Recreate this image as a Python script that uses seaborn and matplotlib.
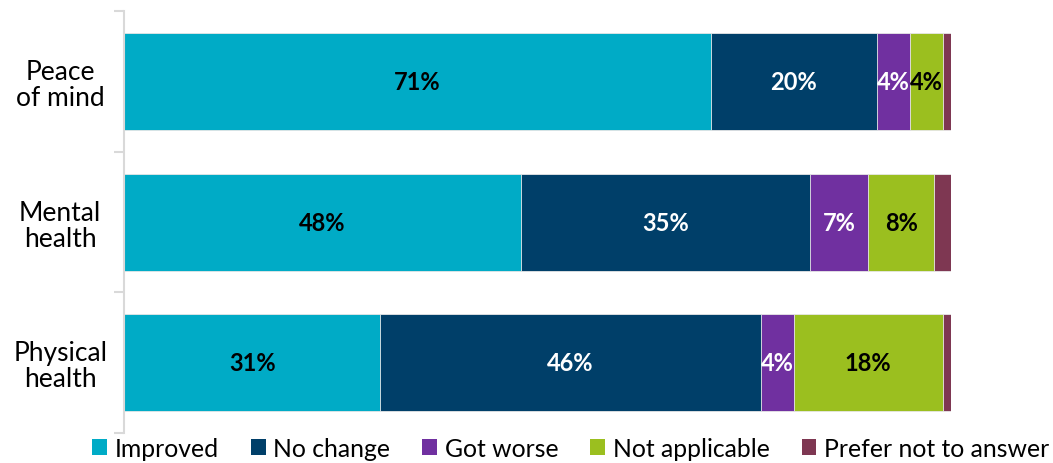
import matplotlib
matplotlib.use("Agg")
import matplotlib.pyplot as plt
from matplotlib.patches import Patch
import numpy as np
import pandas as pd
import seaborn as sns

categories = ["Peace\nof mind", "Mental\nhealth", "Physical\nhealth"]
series_names = ["Improved", "No change", "Got worse", "Not applicable", "Prefer not to answer"]
improved = [71, 48, 31]
no_change = [20, 35, 46]
got_worse = [4, 7, 4]
not_applicable = [4, 8, 18]
prefer_not = [1, 2, 1]

colors = ["#00ABC6", "#003F69", "#7030A0", "#9BBF1F", "#7E3752"]
label_colors = ["black", "white", "white", "black", None]

sns.set_theme(style="white")
plt.rcParams["font.family"] = ["Lato", "DejaVu Sans"]

series = [improved, no_change, got_worse, not_applicable, prefer_not]
df = pd.DataFrame({name: vals for name, vals in zip(series_names, series)}, index=categories)
cum = df.cumsum(axis=1)

fig = plt.figure(figsize=(10.53, 4.64), dpi=100)
ax = fig.add_axes([0.1178, 0.0647, 0.7853, 0.909])

# stacked bars: draw running totals from the outermost segment inward
for name, col in reversed(list(zip(series_names, colors))):
    sns.barplot(x=cum[name].values, y=categories, color=col, width=0.69,
                orient="h", ax=ax, edgecolor="#EAEAEA", linewidth=0.6,
                saturation=1)

for name, lc in zip(series_names, label_colors):
    if lc is None:
        continue
    centers = cum[name] - df[name] / 2
    for i, (c, v) in enumerate(zip(centers, df[name])):
        ax.text(c, i, f"{v}%", ha="center", va="center", color=lc,
                fontsize=17, fontweight="bold")

ax.set_xlim(0, 100)
ax.set_ylim(2.5, -0.5)
ax.set_xlabel("")
ax.set_ylabel("")
ax.set_xticks([])
for s in ["top", "right", "bottom"]:
    ax.spines[s].set_visible(False)
ax.spines["left"].set_color("#D9D9D9")
ax.spines["left"].set_linewidth(1.5)
ax.set_yticks([-0.5, 0.5, 1.5, 2.5], minor=True)
ax.tick_params(axis="y", which="major", length=0, labelsize=19, pad=46, labelcolor="black")
ax.tick_params(axis="y", which="minor", length=7, width=1.5, color="#D9D9D9", left=True)
for t in ax.get_yticklabels():
    t.set_horizontalalignment("center")
    t.set_multialignment("center")
    t.set_linespacing(1.05)

handles = [Patch(facecolor=c, edgecolor="none") for c in colors]
fig.legend(handles, series_names, loc="center", bbox_to_anchor=(0.542, 0.032),
           ncol=5, frameon=False, fontsize=17.8, handlelength=0.6, handleheight=0.6,
           handletextpad=0.3, columnspacing=1.3, borderpad=0, labelcolor="black")

fig.savefig("out.png", dpi=100)
